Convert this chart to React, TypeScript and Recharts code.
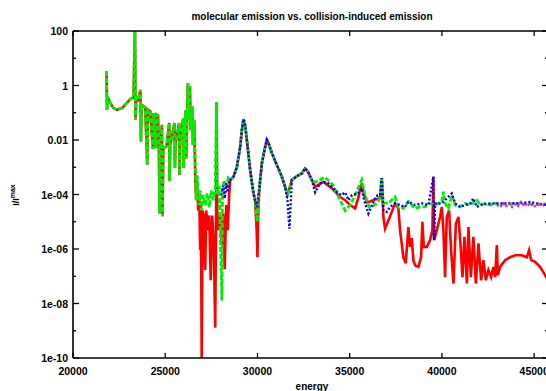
import React from 'react';
import { LineChart, Line, XAxis, YAxis } from 'recharts';

// energies / intensities
const earlyE = [21820, 21842, 21874, 22021, 22199, 22384, 22654, 22925, 23104, 23283, 23359, 23391, 23429, 23521, 23662, 23683, 23716, 23917, 24025, 24063, 24187, 24333, 24366, 24496, 24529, 24605, 24659, 24692, 24729, 24821, 24854, 24892, 25000, 25071, 25217, 25233, 25271, 25504, 25526, 25558, 25759, 25775, 25813, 25975, 25991, 26029, 26121, 26138, 26230, 26262, 26338, 26371, 26463, 26501, 26571];
const earlyI = [3.4, 0.126, 0.38, 0.23, 0.148, 0.129, 0.148, 0.23, 0.32, 0.36, 150, 0.055, 0.35, 0.3, 0.69, 0.0089, 0.195, 0.158, 0.00123, 0.129, 0.112, 0.0047, 0.098, 0.005, 0.085, 0.079, 0.005, 2.0e-5, 0.0043, 0.036, 1.6e-5, 0.0047, 0.0055, 0.006, 0.042, 3.1e-4, 0.0065, 0.042, 9.3e-4, 0.0076, 0.042, 5.2e-4, 0.01, 0.063, 9.3e-4, 0.0138, 0.126, 0.0021, 1.23, 0.054, 0.95, 0.023, 0.17, 0.0065, 0.054];

const redMixE = [26625, 26679, 26733, 26788, 26842, 26896, 26934, 26977, 27021, 27086, 27167, 27221, 27302, 27384, 27465, 27546, 27627, 27709, 27763, 27779, 27817, 27898, 27979, 28061, 28142, 28223, 28304, 28386, 28467];
const redMixI = [5.1e-4, 6.2e-5, 2.1e-4, 2.6e-5, 9.5e-5, 9.1e-7, 4.1e-5, 1e-10, 2.6e-5, 1.7e-5, 1.7e-7, 2.6e-5, 4.9e-6, 1.7e-5, 7.1e-8, 1.7e-5, 2.1e-6, 1.3e-9, 4.1e-5, 0.25, 2.6e-5, 4.9e-6, 1.7e-5, 1.4e-6, 2.0e-5, 1.8e-7, 4.1e-5, 4.9e-6, 9.5e-5];

const greenMixE = [26625, 26679, 26733, 26804, 26896, 26950, 27059, 27167, 27275, 27384, 27492, 27600, 27709, 27779, 27817, 27925, 28071, 28104, 28196, 28304, 28413];
const greenMixI = [1.8e-3, 6.2e-5, 5.1e-4, 4.1e-5, 1.4e-4, 2.6e-5, 9.5e-5, 4.1e-5, 1.1e-4, 3.4e-5, 1.4e-4, 6.2e-5, 1.7e-4, 0.25, 9.5e-5, 2.1e-4, 1.3e-8, 1.4e-4, 3.4e-4, 1.7e-4, 4e-4];

const blueStartE = [28034, 28142, 28223, 28304, 28386, 28467];
const blueStartI = [9.5e-5, 2.1e-4, 7.2e-5, 2.6e-4, 1.2e-4, 3.4e-4];

const riseE = [28521, 28700, 28884, 29063, 29155, 29242, 29334, 29424, 29604, 29783, 29875];
const riseI = [3.4e-4, 4.5e-4, 1.0e-3, 5.6e-3, 0.023, 0.058, 0.035, 0.01, 7.8e-4, 1.1e-4, 6e-5];

const redDipE = [29956, 30000, 30038];
const redDipI = [4.9e-6, 5e-7, 1.7e-5];
const greenDipE = [29984];
const greenDipI = [1e-5];
const blueDipE = [29967];
const blueDipI = [3.5e-5];

const ridgeE = [30092, 30238, 30417, 30509, 30596, 30780, 31051, 31322, 31500];
const ridgeI = [1.4e-4, 1.4e-3, 5.6e-3, 0.01, 7.7e-3, 3.3e-3, 1.2e-3, 4.5e-4, 1.9e-4];

const notchE = [31625];
const notchI = [9.5e-5];
const blueNotchE = [31625, 31733];
const blueNotchI = [6.2e-5, 5.6e-6];

const humpE = [31863, 32134, 32405, 32584, 32747, 32947];
const humpI = [3.4e-4, 4.7e-4, 5.9e-4, 9.1e-4, 6.6e-4, 3.4e-4];

const redTailE = [33126, 33575, 34030, 34480, 34751, 35022, 35292, 35455, 35655, 35780, 35942, 36105, 36376, 36647, 36739, 36826, 36918, 37098, 37282, 37461, 37640, 37730, 37909, 38039, 38180, 38272, 38364, 38452, 38544, 38723, 38870, 38940, 39016, 39179, 39358, 39482, 39537, 39575, 39721, 39900, 39992, 40079, 40171, 40263, 40388, 40496, 40625, 40755, 40896, 41004, 41112, 41221, 41351, 41437, 41567, 41708, 41838, 41979, 42125, 42250, 42380, 42521, 42667, 42792, 42884, 42976, 43030, 43155, 43426, 43697, 43967, 44330, 44601, 44726, 44834, 45051, 45321, 45592, 45754];
const redTailI = [1.9e-4, 2.9e-4, 1.7e-4, 8.1e-5, 6.2e-5, 4.1e-5, 3.1e-5, 7.2e-5, 2.6e-4, 9.5e-5, 5.2e-5, 5.5e-5, 6.5e-5, 7.2e-5, 4e-4, 1.5e-5, 5.6e-6, 1.1e-5, 2.3e-5, 4.7e-5, 3.1e-5, 4.9e-6, 5e-7, 3e-7, 6.4e-6, 1.2e-6, 2.5e-6, 3.9e-7, 2.5e-7, 2.2e-7, 5e-7, 1e-5, 1.2e-6, 1.2e-6, 2.1e-6, 4.9e-6, 4.5e-4, 2.1e-6, 4.9e-6, 1.5e-5, 3.5e-5, 4.9e-6, 9.3e-8, 1.5e-5, 2.6e-5, 9.1e-7, 5.4e-8, 8.5e-6, 1.5e-5, 1.6e-6, 9.3e-8, 2.8e-6, 5.4e-8, 6.4e-6, 9.3e-8, 2.8e-6, 5.4e-8, 1.6e-6, 7.1e-8, 3.9e-7, 7.1e-8, 1.7e-7, 9.3e-8, 2.2e-7, 9.3e-8, 1.4e-6, 1.1e-7, 2.2e-7, 3.9e-7, 5e-7, 5.9e-7, 5.9e-7, 5e-7, 9.1e-7, 4e-7, 3.4e-7, 2.2e-7, 1.1e-7, 7e-8];

const greenTailE = [33126, 33667, 34101, 34480, 34751, 35022, 35292, 35655, 35834, 36051, 36267, 36484, 36647, 36739, 36826, 37098, 37369, 37461, 37640, 37909, 38180, 38364, 38544, 38815, 39084, 39354, 39629, 39992, 40079, 40171, 40350, 40534, 40717, 40988, 41259, 41529, 41893, 42071, 42342, 42613, 42884, 43155, 43697, 44238, 44780, 45321, 45754];
const greenTailI = [2.8e-4, 4.3e-4, 2.2e-4, 6.2e-5, 2.6e-5, 4.1e-5, 9.5e-5, 3.4e-4, 9.5e-5, 3.5e-5, 3.8e-5, 4.8e-5, 7.2e-5, 4e-4, 4.8e-5, 4.8e-5, 7.2e-5, 8.1e-5, 3.5e-5, 3.1e-5, 5.5e-5, 4.1e-5, 3.1e-5, 3.5e-5, 3.5e-5, 4.7e-5, 4.1e-5, 5.5e-5, 1.26e-4, 4.7e-5, 3.1e-5, 9.5e-5, 4.1e-5, 3.5e-5, 4.7e-5, 4.1e-5, 6.2e-5, 4.1e-5, 4.7e-5, 4.1e-5, 4.7e-5, 4.4e-5, 4.5e-5, 4.4e-5, 4.5e-5, 4.4e-5, 4.5e-5];

const blueTailE = [33126, 33396, 33759, 34301, 34534, 34751, 34930, 35130, 35455, 35655, 35780, 36013, 36213, 36430, 36647, 36739, 36826, 37010, 37190, 37461, 37730, 38001, 38180, 38544, 38908, 39266, 39537, 39575, 39629, 39992, 40171, 40534, 40717, 40988, 41259, 41529, 41708, 41893, 42071, 42613, 43155, 43697, 44238, 44780, 45321, 45754];
const blueTailI = [1.2e-4, 2.6e-4, 2.9e-4, 1.26e-4, 9.5e-5, 1.2e-4, 6.2e-5, 9.5e-5, 1.1e-4, 1.7e-4, 6.2e-5, 2.0e-5, 4.1e-5, 8.8e-5, 9.5e-5, 4e-4, 2.6e-5, 2.3e-5, 3.5e-5, 4.7e-5, 4.1e-5, 3.5e-5, 5.5e-5, 4.1e-5, 4.7e-5, 4.1e-5, 4.5e-4, 2.1e-6, 4.7e-5, 4.7e-5, 6.2e-5, 1.1e-4, 4.7e-5, 3.5e-5, 4.1e-5, 4.7e-5, 7.2e-5, 3.5e-5, 4.1e-5, 4.7e-5, 4.7e-5, 4.8e-5, 4.8e-5, 5.3e-5, 4.4e-5, 4.1e-5];

const magentaE = [42984, 43155, 43317, 43480, 43642, 43805, 43967, 44130, 44292, 44455, 44617, 44780, 44942, 45105, 45267, 45430, 45592, 45754];
const magentaI = [4.1e-5, 3.5e-5, 4.8e-5, 3.8e-5, 4.8e-5, 3.5e-5, 4.4e-5, 3.8e-5, 5.3e-5, 3.8e-5, 4.8e-5, 3.8e-5, 4.4e-5, 3.5e-5, 4.8e-5, 3.8e-5, 4.4e-5, 4.1e-5];

const xTicks = [20000, 25000, 30000, 35000, 40000, 45000];
const yTicks = [1e-10, 1e-9, 1e-8, 1e-7, 1e-6, 1e-5, 1e-4, 1e-3, 1e-2, 1e-1, 1, 10, 100];

const pts = (e: number[], v: number[]) => e.map((x, k) => ({ e: x, v: v[k] }));

const redData = pts(
  [...earlyE, ...redMixE, ...riseE, ...redDipE, ...ridgeE, ...notchE, ...humpE, ...redTailE],
  [...earlyI, ...redMixI, ...riseI, ...redDipI, ...ridgeI, ...notchI, ...humpI, ...redTailI]
);
const greenData = pts(
  [...earlyE, ...greenMixE, ...riseE, ...greenDipE, ...ridgeE, ...notchE, ...humpE, ...greenTailE],
  [...earlyI, ...greenMixI, ...riseI, ...greenDipI, ...ridgeI, ...notchI, ...humpI, ...greenTailI]
);
const blueData = pts(
  [...blueStartE, ...riseE, ...blueDipE, ...ridgeE, ...blueNotchE, ...humpE, ...blueTailE],
  [...blueStartI, ...riseI, ...blueDipI, ...ridgeI, ...blueNotchI, ...humpI, ...blueTailI]
);
const magentaData = pts(magentaE, magentaI);

const FONT = '"Liberation Sans", Arial, sans-serif';

const yLabel = (p: number) => {
  if (p === 2) return '100';
  if (p === 0) return '1';
  if (p === -2) return '0.01';
  return `1e-${String(-p).padStart(2, '0')}`;
};

const LeftTick = ({ x, y, payload }: any) => {
  const p = Math.round(Math.log10(payload.value));
  const major = p % 2 === 0;
  return (
    <g>
      <line x1={x} y1={y} x2={x + (major ? 6 : 3)} y2={y} stroke="#000" strokeWidth={1.3} />
      {major && (
        <text x={x - 5} y={y} textAnchor="end" dominantBaseline="central" fontSize={10.5} fontWeight="bold" fontFamily={FONT} fill="#000">
          {yLabel(p)}
        </text>
      )}
    </g>
  );
};

const RightTick = ({ x, y, payload }: any) => {
  const p = Math.round(Math.log10(payload.value));
  const major = p % 2 === 0;
  return <line x1={x} y1={y} x2={x - (major ? 6 : 3)} y2={y} stroke="#000" strokeWidth={1.3} />;
};

const BottomTick = ({ x, y, payload }: any) => (
  <g>
    <line x1={x} y1={y} x2={x} y2={y - 5} stroke="#000" strokeWidth={1.3} />
    <text x={x} y={y + 13} textAnchor="middle" dominantBaseline="central" fontSize={10.5} fontWeight="bold" fontFamily={FONT} fill="#000">
      {payload.value}
    </text>
  </g>
);

const TopTick = ({ x, y }: any) => <line x1={x} y1={y} x2={x} y2={y + 5} stroke="#000" strokeWidth={1.3} />;

const axisStyle = { stroke: '#000', strokeWidth: 1.6 };

export default function App() {
  return (
    <div style={{ position: 'fixed', left: 0, top: 0, width: 546, height: 391, overflow: 'hidden', background: '#fff' }}>
      <div style={{ position: 'absolute', left: 312, top: 16, transform: 'translate(-50%, -50%)', whiteSpace: 'nowrap', fontFamily: FONT, fontWeight: 'bold', fontSize: 10 }}>
        molecular emission vs. collision-induced emission
      </div>
      <div style={{ position: 'absolute', left: 15, top: 195, transform: 'translate(-50%, -50%) rotate(-90deg)', whiteSpace: 'nowrap', fontFamily: FONT, fontWeight: 'bold', fontSize: 9 }}>
        I/I<sup style={{ fontSize: 7 }}>max</sup>
      </div>
      <div style={{ position: 'absolute', left: 312, top: 386, transform: 'translate(-50%, -50%)', whiteSpace: 'nowrap', fontFamily: FONT, fontWeight: 'bold', fontSize: 10 }}>
        energy
      </div>
      <div style={{ position: 'absolute', left: 0, top: 0 }}>
        <LineChart width={560} height={391} margin={{ top: 30, right: 11, left: 0, bottom: 0 }}>
          <XAxis xAxisId="b" type="number" dataKey="e" domain={[20000, 45750]} allowDataOverflow ticks={xTicks} interval={0}
            height={33} tickSize={0} tickMargin={0} tickLine={false} axisLine={axisStyle} tick={<BottomTick />} />
          <XAxis xAxisId="t" orientation="top" type="number" dataKey="e" domain={[20000, 45750]} allowDataOverflow ticks={xTicks} interval={0}
            height={1} tickSize={0} tickMargin={0} tickLine={false} axisLine={axisStyle} tick={<TopTick />} />
          <YAxis yAxisId="l" scale="log" type="number" domain={[1e-10, 100]} allowDataOverflow ticks={yTicks} interval={0}
            width={73} tickSize={0} tickMargin={0} tickLine={false} axisLine={axisStyle} tick={<LeftTick />} />
          <YAxis yAxisId="r" orientation="right" scale="log" type="number" domain={[1e-10, 100]} allowDataOverflow ticks={yTicks} interval={0}
            width={1} tickSize={0} tickMargin={0} tickLine={false} axisLine={axisStyle} tick={<RightTick />} />
          <Line data={redData} xAxisId="b" yAxisId="l" dataKey="v" stroke="#ff0000" strokeWidth={2.6} dot={false} isAnimationActive={false} />
          <Line data={greenData} xAxisId="b" yAxisId="l" dataKey="v" stroke="#00ee00" strokeWidth={2.8} strokeDasharray="5 2" dot={false} isAnimationActive={false} />
          <Line data={blueData} xAxisId="b" yAxisId="l" dataKey="v" stroke="#0000ff" strokeWidth={2.4} strokeDasharray="2 2" dot={false} isAnimationActive={false} />
          <Line data={magentaData} xAxisId="b" yAxisId="l" dataKey="v" stroke="#ff00ff" strokeWidth={2.4} strokeDasharray="2 2" dot={false} isAnimationActive={false} />
        </LineChart>
      </div>
    </div>
  );
}
